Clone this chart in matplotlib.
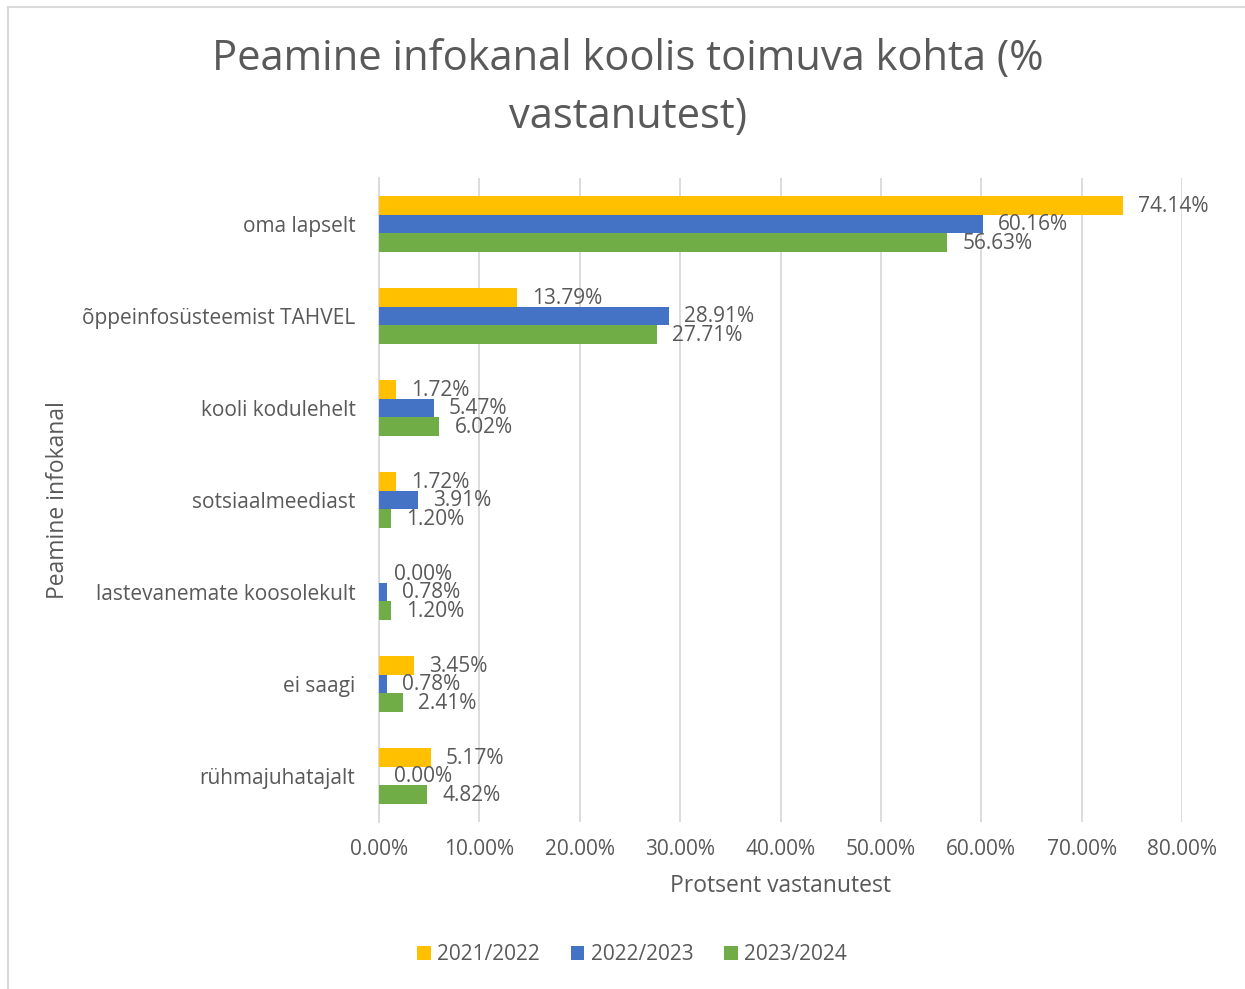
import matplotlib
matplotlib.use("Agg")
import matplotlib.pyplot as plt
import numpy as np
from matplotlib.lines import Line2D

plt.rcParams['font.family'] = ['Open Sans', 'DejaVu Sans']

categories = ["oma lapselt", "õppeinfosüsteemist TAHVEL", "kooli kodulehelt",
              "sotsiaalmeediast", "lastevanemate koosolekult", "ei saagi", "rühmajuhatajalt"]
series_names = ["2021/2022", "2022/2023", "2023/2024"]
v2122 = [74.14, 13.79, 1.72, 1.72, 0.00, 3.45, 5.17]
v2223 = [60.16, 28.91, 5.47, 3.91, 0.78, 0.78, 0.00]
v2324 = [56.63, 27.71, 6.02, 1.20, 1.20, 2.41, 4.82]
xticks = [0, 10, 20, 30, 40, 50, 60, 70, 80]

colors = ["#FFC000", "#4472C4", "#70AD47"]
txt = "#595959"

W, H = 1245, 989
fig = plt.figure(figsize=(W/100, H/100), dpi=100)
ax = fig.add_axes([379/W, 1-822/H, (1182-379)/W, (822-178)/H])

y = np.arange(len(categories))
bh = 0.205
for i, (vals, name, c) in enumerate(zip([v2122, v2223, v2324], series_names, colors)):
    pos = y + (i-1)*bh
    ax.barh(pos, vals, height=bh, color=c, label=name, zorder=3)
    for p, v in zip(pos, vals):
        ax.annotate(f"{v:.2f}%", (v, p), xytext=(15, -1), textcoords='offset pixels',
                    ha='left', va='center', fontsize=15, color=txt, zorder=4)

ax.set_xlim(0, 80)
ax.set_ylim(len(categories)-0.5, -0.5)
ax.set_xticks(xticks)
ax.set_xticklabels([f"{t:.2f}%" for t in xticks])
ax.set_yticks(y)
ax.set_yticklabels(categories)
ax.tick_params(axis='both', length=0, labelsize=15, labelcolor=txt)
ax.tick_params(axis='x', pad=12)
ax.tick_params(axis='y', pad=17)
for t in ax.get_yticklabels():
    t.set_va('center_baseline')
ax.grid(axis='x', color='#D9D9D9', linewidth=1.3, zorder=0)
for s in ['top', 'right', 'bottom']:
    ax.spines[s].set_visible(False)
ax.spines['left'].set_color('#D9D9D9')
ax.spines['left'].set_linewidth(1.3)
ax.set_xlabel("Protsent vastanutest", fontsize=16.5, color=txt, labelpad=10)
ax.set_ylabel("Peamine infokanal", fontsize=16.5, color=txt, labelpad=0)
ax.yaxis.set_label_coords((70-379)/(1182-379), 0.5)

fig.text(628/W, 1-88/H, "Peamine infokanal koolis toimuva kohta (%\nvastanutest)",
         ha='center', va='center', fontsize=30, color=txt, linespacing=1.5)

leg = fig.legend(loc='center', bbox_to_anchor=(632/W, 1-955/H), ncol=3, frameon=False,
                 fontsize=15, handlelength=0.65, handleheight=0.65, handletextpad=0.3,
                 columnspacing=1.5)
for t in leg.get_texts():
    t.set_color(txt)

fig.add_artist(Line2D([8/W, 8/W], [0, 1-7/H], transform=fig.transFigure, color='#D9D9D9', lw=1.5))
fig.add_artist(Line2D([8/W, 1], [1-7/H, 1-7/H], transform=fig.transFigure, color='#D9D9D9', lw=1.5))

fig.savefig("out.png", dpi=100)
